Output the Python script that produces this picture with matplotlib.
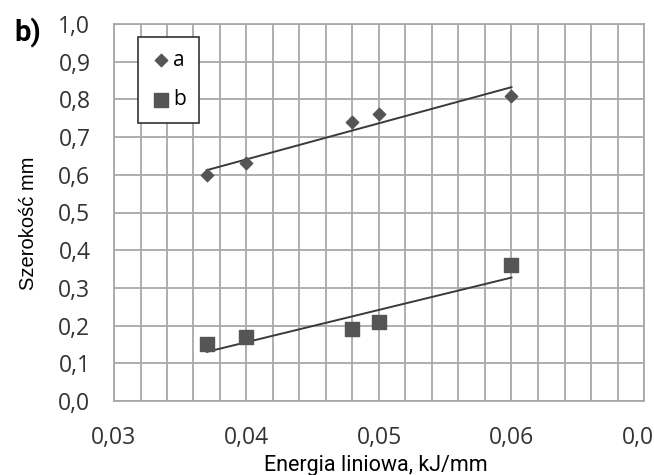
import numpy as np
import matplotlib.pyplot as plt
from matplotlib.ticker import MultipleLocator

# dane
energia = [0.037, 0.040, 0.048, 0.050, 0.060]
szer_a = [0.60, 0.63, 0.74, 0.76, 0.81]
szer_b = [0.15, 0.17, 0.19, 0.21, 0.36]
x_ticks = [0.03, 0.04, 0.05, 0.06, 0.07]
y_ticks = [0.0, 0.1, 0.2, 0.3, 0.4, 0.5, 0.6, 0.7, 0.8, 0.9, 1.0]

kolor = "#555555"

fig = plt.figure(figsize=(6.54, 4.75), dpi=100)
ax = fig.add_axes([114/654, 1 - 401/475, 530/654, 377/475])

ax.scatter(energia, szer_a, marker="D", s=40, color=kolor, label="a", zorder=3)
ax.scatter(energia, szer_b, marker="s", s=110, color=kolor, label="b", zorder=3)

# linie trendu
xs = np.array([min(energia), max(energia)])
for y in (szer_a, szer_b):
    k, b = np.polyfit(energia, y, 1)
    ax.plot(xs, k * xs + b, color="#3a3a3a", lw=1.4, zorder=2)

ax.set_xlim(0.03, 0.07)
ax.set_ylim(0, 1.0)
ax.set_xticks(x_ticks)
ax.set_yticks(y_ticks)
ax.xaxis.set_minor_locator(MultipleLocator(0.002))
ax.set_xticklabels([f"{v:.2f}".replace(".", ",") for v in x_ticks], family="Open Sans", fontsize=16.5, color="#333333")
ax.set_yticklabels([f"{v:.1f}".replace(".", ",") for v in y_ticks], family="Open Sans", fontsize=16.5, color="#333333")
ax.tick_params(which="both", length=0)
ax.tick_params(axis="y", pad=17)
ax.tick_params(axis="x", pad=18)
ax.grid(True, which="both", color="#a8a8a8", lw=1.3)
ax.set_axisbelow(True)
for s in ax.spines.values():
    s.set_color("#a8a8a8")
    s.set_linewidth(1.3)

leg = ax.legend(loc="upper left", bbox_to_anchor=(24/530, 1 - 13/377), prop={"family": "Open Sans", "size": 15},
                handletextpad=0.1, handlelength=1.0, borderpad=0.6, labelspacing=0.9, borderaxespad=0,
                fancybox=False, framealpha=1)
leg.get_frame().set_edgecolor("#333333")
leg.get_frame().set_linewidth(1.2)

fig.text(28/654, 1 - 223/475, "Szerokość mm", rotation=90, ha="center", va="center", family="Liberation Sans", fontsize=14.5)
fig.text(376/654, 1 - 465/475, "Energia liniowa, kJ/mm", ha="center", va="center", family="Roboto", fontsize=15.5)
fig.text(14/654, 1 - 33/475, "b)", ha="left", va="center", family="Roboto", fontweight="bold", fontsize=21)

fig.savefig("out.png", dpi=100)
